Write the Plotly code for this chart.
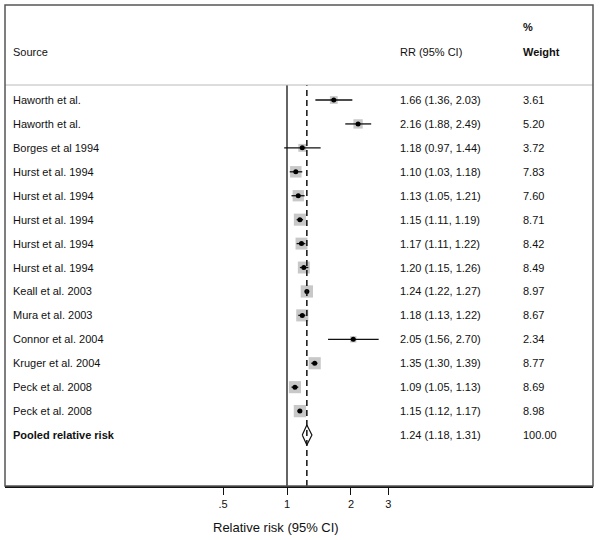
import plotly.graph_objects as go
import math

sources = ["Haworth et al.", "Haworth et al.", "Borges et al 1994", "Hurst et al. 1994",
           "Hurst et al. 1994", "Hurst et al. 1994", "Hurst et al. 1994", "Hurst et al. 1994",
           "Keall et al. 2003", "Mura et al. 2003", "Connor et al. 2004", "Kruger et al. 2004",
           "Peck et al. 2008", "Peck et al. 2008"]
rr = [1.66, 2.16, 1.18, 1.10, 1.13, 1.15, 1.17, 1.20, 1.24, 1.18, 2.05, 1.35, 1.09, 1.15]
lo = [1.36, 1.88, 0.97, 1.03, 1.05, 1.11, 1.11, 1.15, 1.22, 1.13, 1.56, 1.30, 1.05, 1.12]
hi = [2.03, 2.49, 1.44, 1.18, 1.21, 1.19, 1.22, 1.26, 1.27, 1.22, 2.70, 1.39, 1.13, 1.17]
weight = [3.61, 5.20, 3.72, 7.83, 7.60, 8.71, 8.42, 8.49, 8.97, 8.67, 2.34, 8.77, 8.69, 8.98]

pooled_label = "Pooled relative risk"
pooled_rr, pooled_lo, pooled_hi, pooled_w = 1.24, 1.18, 1.31, 100.00

tick_vals = [0.5, 1, 2, 3]
tick_text = [".5", "1", "2", "3"]

FONT = "Liberation Sans, Arial, sans-serif"
TXT = "#111111"

W, H = 602, 540
L, R, T, B = 5, 9, 85, 54
PW = W - L - R
PH = H - T - B

def px2paper_x(px):
    return (px - L) / PW

def px2paper_y(py):
    return (T + PH - py) / PH

n = len(sources)
rows = list(range(1, n + 1))
pooled_row = n + 1

fig = go.Figure()

# study boxes
fig.add_trace(go.Scatter(
    x=rr, y=rows, mode="markers",
    marker=dict(symbol="square", size=[4.1 * math.sqrt(w) for w in weight],
                color="#b0b0b0", line=dict(width=0)),
    hoverinfo="skip", showlegend=False))

# CI lines
cx, cy = [], []
for a, b, r in zip(lo, hi, rows):
    cx += [a, b, None]
    cy += [r, r, None]
fig.add_trace(go.Scatter(x=cx, y=cy, mode="lines", line=dict(color="#111111", width=1.3),
                         hoverinfo="skip", showlegend=False))

# point estimates
fig.add_trace(go.Scatter(x=rr, y=rows, mode="markers",
                         marker=dict(symbol="circle", size=5, color="#000000"),
                         hoverinfo="skip", showlegend=False))

# pooled diamond
hh = 0.42
fig.add_trace(go.Scatter(
    x=[pooled_lo, pooled_rr, pooled_hi, pooled_rr, pooled_lo],
    y=[pooled_row, pooled_row - hh, pooled_row, pooled_row + hh, pooled_row],
    mode="lines", fill="toself", fillcolor="white",
    line=dict(color="#111111", width=1.2), hoverinfo="skip", showlegend=False))

shapes = [
    dict(type="line", xref="x", yref="paper", x0=1, x1=1, y0=0, y1=1,
         line=dict(color="#111111", width=1.3), layer="below"),
    dict(type="line", xref="x", yref="paper", x0=pooled_rr, x1=pooled_rr, y0=0, y1=1,
         line=dict(color="#111111", width=1.5, dash="6px,4px"), layer="above"),
    dict(type="line", xref="paper", yref="paper", x0=0, x1=1, y0=1, y1=1,
         line=dict(color="#bbbbbb", width=1)),
    dict(type="rect", xref="paper", yref="paper", x0=0, x1=1, y0=0, y1=px2paper_y(5),
         line=dict(color="#555555", width=1.5)),
]

ann = []
def add_text(text, xpx, y, yref="y", bold=False, size=11, xanchor="left"):
    ann.append(dict(text=("<b>%s</b>" % text) if bold else text,
                    x=px2paper_x(xpx), xref="paper", y=y, yref=yref,
                    xanchor=xanchor, yanchor="middle", showarrow=False, borderpad=0,
                    font=dict(family=FONT, size=size, color=TXT)))

for s, a, b, c, w, r in zip(sources, rr, lo, hi, weight, rows):
    add_text(s, 12, r)
    add_text("%.2f (%.2f, %.2f)" % (a, b, c), 399, r)
    add_text("%.2f" % w, 522, r)
add_text(pooled_label, 12, pooled_row, bold=True)
add_text("%.2f (%.2f, %.2f)" % (pooled_rr, pooled_lo, pooled_hi), 399, pooled_row)
add_text("%.2f" % pooled_w, 522, pooled_row)

add_text("Source", 12, px2paper_y(52), yref="paper")
add_text("RR (95% CI)", 399, px2paper_y(52), yref="paper")
add_text("%", 522, px2paper_y(27), yref="paper", bold=True)
add_text("Weight", 522, px2paper_y(52), yref="paper", bold=True)

add_text("Relative risk (95% CI)", 276, px2paper_y(527), yref="paper", size=13, xanchor="center")

ppl = 212.5  # pixels per log10 unit
x_one = 287
fig.update_layout(
    width=W, height=H,
    margin=dict(l=L, r=R, t=T, b=B, pad=0),
    paper_bgcolor="white", plot_bgcolor="white",
    shapes=shapes, annotations=ann,
    xaxis=dict(type="log", range=[(L - x_one) / ppl, (W - R - x_one) / ppl],
               tickvals=tick_vals, ticktext=tick_text, ticks="outside", ticklen=7,
               tickwidth=1.3, tickcolor="#111111", showgrid=False, zeroline=False,
               showline=True, linecolor="#111111", linewidth=1.5,
               tickfont=dict(family=FONT, size=11, color=TXT)),
    yaxis=dict(range=[17.13, 0.373], visible=False, showgrid=False, zeroline=False),
)

fig.write_html("out.html", config={"displayModeBar": False},
               post_script="document.body.style.margin='0px';document.body.style.padding='0px';")
